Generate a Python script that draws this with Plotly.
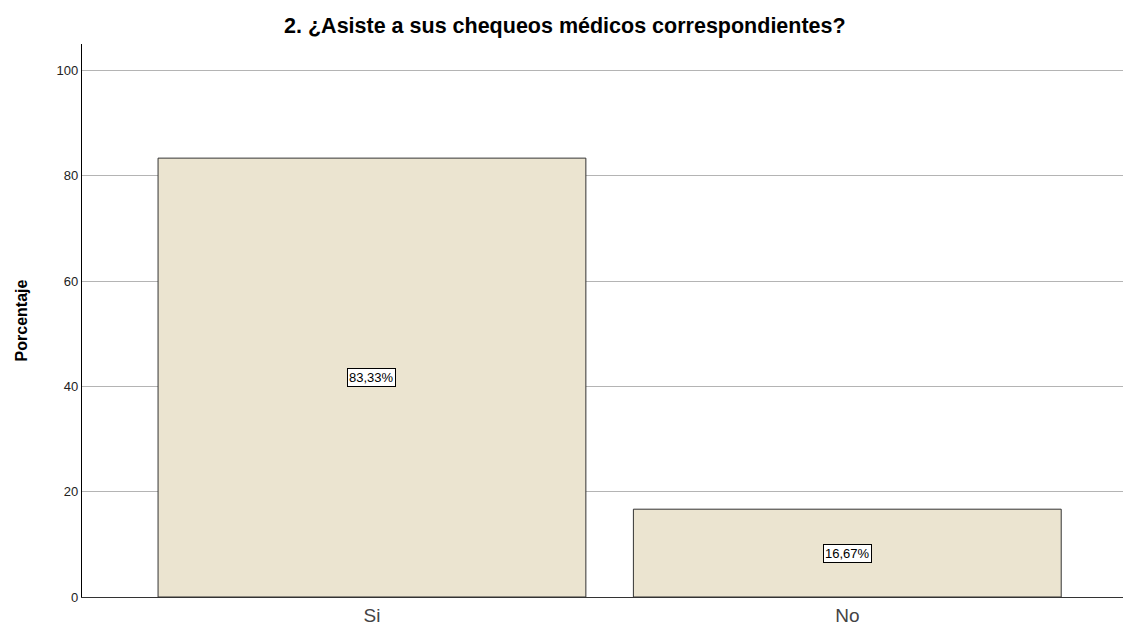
import plotly.graph_objects as go

categories = ["Si", "No"]
percentages = [83.33, 16.67]
labels = ["83,33%", "16,67%"]
y_ticks = [0, 20, 40, 60, 80, 100]

fig = go.Figure()
fig.add_trace(go.Bar(
    x=categories,
    y=percentages,
    width=0.9,
    marker=dict(color="#EBE4D0", line=dict(color="#333333", width=1)),
    hoverinfo="skip",
))

# value boxes at the middle of each bar
for cat, val, lab in zip(categories, percentages, labels):
    fig.add_annotation(
        x=cat, y=val / 2, text=lab, showarrow=False,
        font=dict(family="Liberation Sans, Arial", size=13, color="#000000"),
        bgcolor="#FFFFFF", bordercolor="#000000", borderwidth=1, borderpad=1,
    )

fig.update_layout(
    width=1123, height=628,
    margin=dict(l=82, r=0, t=44, b=31),
    paper_bgcolor="#FFFFFF",
    plot_bgcolor="#FFFFFF",
    showlegend=False,
    title=dict(
        text="<b>2. ¿Asiste a sus chequeos médicos correspondientes?</b>",
        x=0.503, xanchor="center", y=0.959, yanchor="middle",
        font=dict(family="Liberation Sans, Arial", size=21.5, color="#000000"),
    ),
    font=dict(family="Liberation Sans, Arial"),
)
fig.update_xaxes(
    range=[-0.61, 1.58],
    showline=True, linecolor="#333333", linewidth=1,
    showgrid=False, ticks="",
    tickfont=dict(size=19, color="#444444"),
    ticklabelstandoff=1,
    automargin=False,
)
fig.update_yaxes(
    range=[0, 105],
    tickvals=y_ticks,
    showline=True, linecolor="#000000", linewidth=1.2,
    showgrid=True, gridcolor="#B4B4B4", gridwidth=1,
    zeroline=False, ticks="",
    tickfont=dict(size=13, color="#222222"),
    title=dict(text="<b>Porcentaje</b>", font=dict(size=16, color="#000000"), standoff=24),
)

# the page body has a default margin; drop it so the figure sits at the corner
fig.write_html("out.html", config={"displayModeBar": False},
               post_script="document.body.style.margin='0';")
